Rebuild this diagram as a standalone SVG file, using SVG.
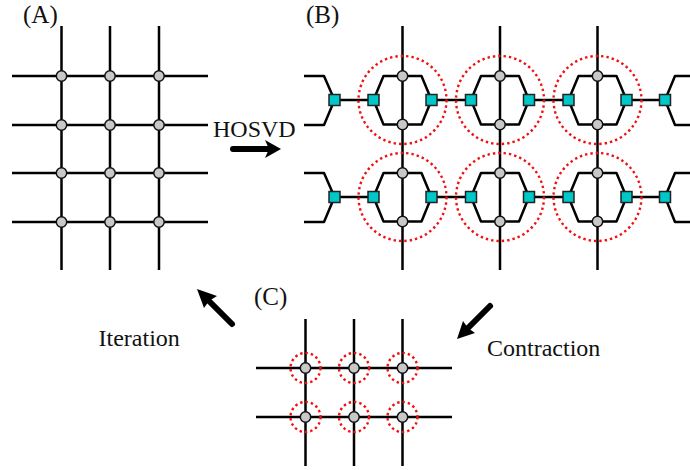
<svg xmlns="http://www.w3.org/2000/svg" width="690" height="470" viewBox="0 0 690 470">
<style>
.l{stroke:#000;stroke-width:2.500;fill:none;stroke-linejoin:round}
.n{fill:#c8c8c8;stroke:#111;stroke-width:1.500}
.s{fill:#00c8c8;stroke:#222;stroke-width:1.500}
.r{fill:none;stroke:#f01010;stroke-width:2.400;stroke-dasharray:2.400 3}
.t{font-family:"Liberation Serif","Times New Roman",serif;font-size:24px;fill:#111}
.p{font-size:25px}
.a{stroke:#000;stroke-width:6;stroke-linecap:round;fill:none}
</style>
<defs>
<g id="hex"><path class="l" d="M-29 0L-19-24H19L29 0L19 24.500H-19Z"/></g>
<g id="cell"><use href="#hex"/><circle class="n" cx="0" cy="-24" r="5.200"/><circle class="n" cx="0" cy="24.500" r="5.200"/><rect class="s" x="-34.500" y="-5.500" width="11" height="11"/><rect class="s" x="23.500" y="-5.500" width="11" height="11"/></g>
</defs>
<g id="connectors">
<path class="l" d="M12 76H208M12 125H208M12 173H208M12 222H208M61.500 26V270M110 26V270M159 26V270"/>
<path class="l" d="M402.500 26V270M500 26V270M597.500 26V270"/>
<path class="l" d="M304 76H324L334.500 100L324 125H304M304 173H324L334.500 197L324 222H304M690 76H675L665 100L675 125H690M690 173H675L665 197L675 222H690"/>
<path class="l" d="M334.500 100H373.500M431.500 100H471M529 100H568.500M626.500 100H665M334.500 197H373.500M431.500 197H471M529 197H568.500M626.500 197H665"/>
<path class="l" d="M256 368H452M256 417H452M305.500 319V466M354 319V466M402.500 319V466"/>
</g>
<g id="arrows">
<path class="a" d="M233 149H268"/><path d="M281 149L265 140L269 149L265 158Z"/>
<path class="a" d="M490 306L468 328"/><path d="M457 339L475 333L468 328L463 321Z"/>
<path class="a" d="M232 324L209 301"/><path d="M197 289L204 308L209 301L217 296Z"/>
</g>
<g id="panel-a">
<g class="n"><circle cx="61.500" cy="76" r="5.200"/><circle cx="110" cy="76" r="5.200"/><circle cx="159" cy="76" r="5.200"/><circle cx="61.500" cy="125" r="5.200"/><circle cx="110" cy="125" r="5.200"/><circle cx="159" cy="125" r="5.200"/><circle cx="61.500" cy="173" r="5.200"/><circle cx="110" cy="173" r="5.200"/><circle cx="159" cy="173" r="5.200"/><circle cx="61.500" cy="222" r="5.200"/><circle cx="110" cy="222" r="5.200"/><circle cx="159" cy="222" r="5.200"/></g>
</g>
<g id="panel-b">
<use href="#cell" x="402.500" y="100"/><use href="#cell" x="500" y="100"/><use href="#cell" x="597.500" y="100"/>
<use href="#cell" x="402.500" y="197"/><use href="#cell" x="500" y="197"/><use href="#cell" x="597.500" y="197"/>
<rect class="s" x="329" y="94.500" width="11" height="11"/><rect class="s" x="659.500" y="94.500" width="11" height="11"/><rect class="s" x="329" y="191.500" width="11" height="11"/><rect class="s" x="659.500" y="191.500" width="11" height="11"/>
<circle class="r" cx="402.500" cy="100" r="44"/><circle class="r" cx="500" cy="100" r="44"/><circle class="r" cx="597.500" cy="100" r="44"/>
<circle class="r" cx="402.500" cy="197" r="44"/><circle class="r" cx="500" cy="197" r="44"/><circle class="r" cx="597.500" cy="197" r="44"/>
</g>
<g id="panel-c">
<g class="n"><circle cx="305.500" cy="368" r="5.200"/><circle cx="354" cy="368" r="5.200"/><circle cx="402.500" cy="368" r="5.200"/><circle cx="305.500" cy="417" r="5.200"/><circle cx="354" cy="417" r="5.200"/><circle cx="402.500" cy="417" r="5.200"/></g>
<circle class="r" cx="305.500" cy="368" r="15"/><circle class="r" cx="354" cy="368" r="15"/><circle class="r" cx="402.500" cy="368" r="15"/><circle class="r" cx="305.500" cy="417" r="15"/><circle class="r" cx="354" cy="417" r="15"/><circle class="r" cx="402.500" cy="417" r="15"/>
</g>
<g id="labels">
<text class="t p" x="23" y="22.500">(A)</text>
<text class="t p" x="306" y="22.500">(B)</text>
<text class="t p" x="254" y="305">(C)</text>
<text class="t" x="213" y="137">HOSVD</text>
<text class="t" x="98.500" y="346">Iteration</text>
<text class="t" x="487" y="356">Contraction</text>
</g>
</svg>
